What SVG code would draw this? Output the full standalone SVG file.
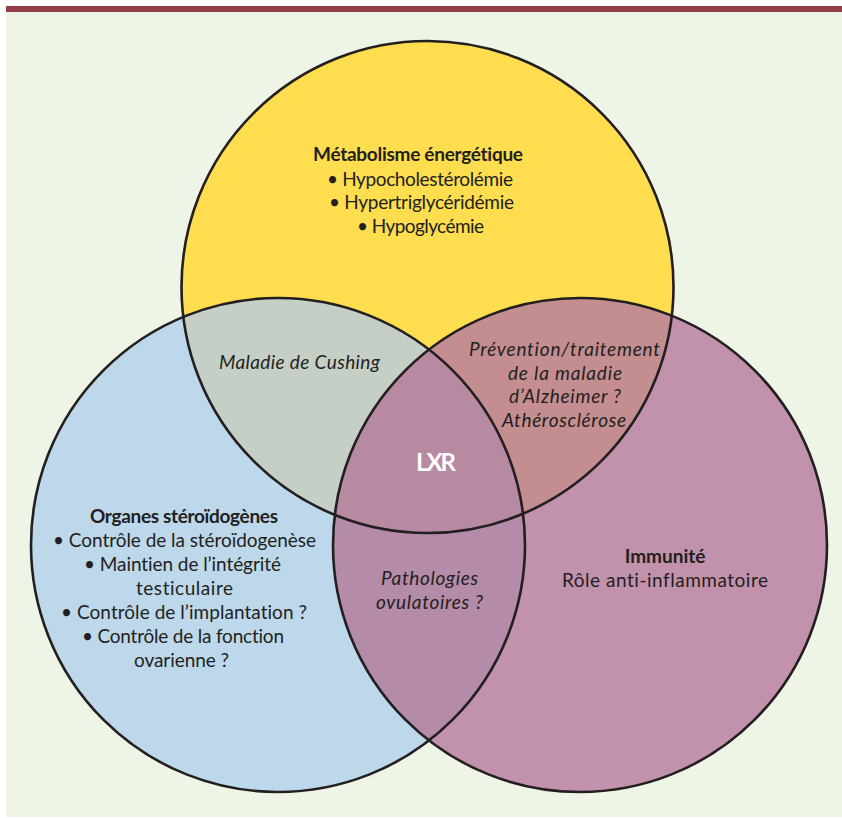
<svg xmlns="http://www.w3.org/2000/svg" width="842" height="818" viewBox="0 0 842 818">
<style>
.t{font-family:Lato,"Open Sans","Liberation Sans",sans-serif;font-size:19px;fill:#231f20;text-anchor:middle;font-variant-ligatures:none}
.b{font-weight:bold}
.i{font-style:italic}
.ol{fill:none;stroke:#231f20;stroke-width:2.6}
</style>
<defs>
<clipPath id="cy"><circle cx="427.5" cy="287" r="246"/></clipPath>
<clipPath id="cb"><circle cx="278" cy="545" r="247"/></clipPath>
</defs>
<rect x="0" y="0" width="842" height="818" fill="#ffffff"/>
<rect x="6" y="12" width="836" height="805" fill="#eef4e6"/>
<rect x="6" y="6" width="836" height="6" fill="#943f47"/>

<g id="regions">
<circle cx="427.5" cy="287" r="246" fill="#fedd4e"/>
<circle cx="278" cy="545" r="247" fill="#bdd8eb"/>
<circle cx="580" cy="545" r="247" fill="#c291ab"/>
<circle cx="278" cy="545" r="247" fill="#c5cfc6" clip-path="url(#cy)"/>
<circle cx="580" cy="545" r="247" fill="#c48e91" clip-path="url(#cy)"/>
<circle cx="580" cy="545" r="247" fill="#b48ba8" clip-path="url(#cb)"/>
<g clip-path="url(#cy)"><circle cx="580" cy="545" r="247" fill="#b78aa2" clip-path="url(#cb)"/></g>
<circle class="ol" cx="427.5" cy="287" r="246"/>
<circle class="ol" cx="278" cy="545" r="247"/>
<circle class="ol" cx="580" cy="545" r="247"/>
</g>

<g id="metabolisme">
<text class="t b" x="418" y="161" textLength="210">Métabolisme énergétique</text>
<text class="t" x="420" y="185.5" textLength="186">• Hypocholestérolémie</text>
<text class="t" x="421.5" y="209" textLength="185">• Hypertriglycéridémie</text>
<text class="t" x="420.5" y="233" textLength="127">• Hypoglycémie</text>
</g>

<g id="cushing">
<text class="t i" x="299.5" y="369" textLength="161">Maladie de Cushing</text>
</g>

<g id="alzheimer">
<text class="t i" x="564.5" y="356" textLength="191">Prévention/traitement</text>
<text class="t i" x="565" y="379.5" textLength="114">de la maladie</text>
<text class="t i" x="565" y="403" textLength="112">d’Alzheimer ?</text>
<text class="t i" x="564" y="427" textLength="124">Athérosclérose</text>
</g>

<g id="lxr">
<text class="t b" x="436" y="471" style="font-size:24px;fill:#ffffff" textLength="40">LXR</text>
</g>

<g id="organes">
<text class="t b" x="184" y="523" textLength="188">Organes stéroïdogènes</text>
<text class="t" x="184.5" y="547" textLength="263">• Contrôle de la stéroïdogenèse</text>
<text class="t" x="182.5" y="571" textLength="197">• Maintien de l’intégrité</text>
<text class="t" x="184.5" y="594.5" textLength="97">testiculaire</text>
<text class="t" x="184" y="619" textLength="246">• Contrôle de l’implantation ?</text>
<text class="t" x="183" y="643" textLength="202">• Contrôle de la fonction</text>
<text class="t" x="181.5" y="667" textLength="95">ovarienne ?</text>
</g>

<g id="ovulatoires">
<text class="t i" x="429.5" y="585" textLength="97">Pathologies</text>
<text class="t i" x="429.5" y="608.5" textLength="107">ovulatoires ?</text>
</g>

<g id="immunite">
<text class="t b" x="665" y="563">Immunité</text>
<text class="t" x="665" y="587" textLength="206">Rôle anti-inflammatoire</text>
</g>
</svg>
